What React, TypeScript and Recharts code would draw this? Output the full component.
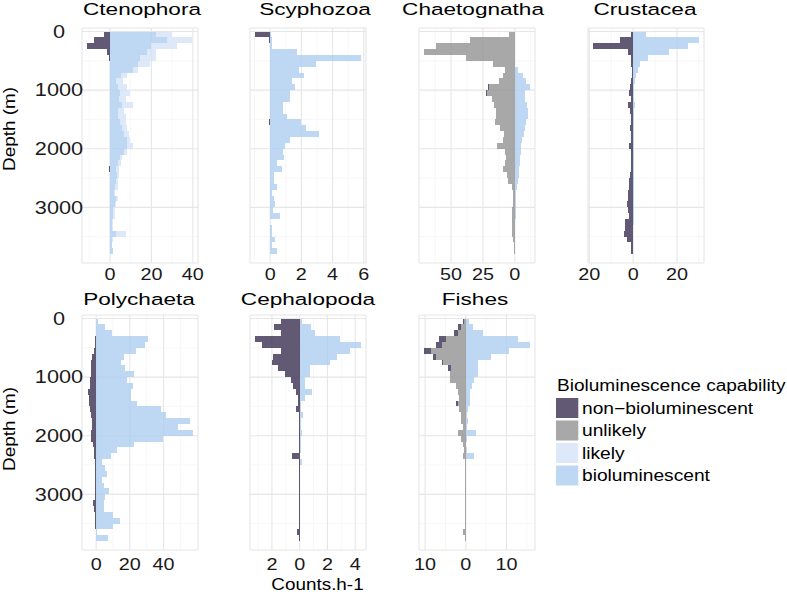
import React from 'react';
import { Bar, BarChart, CartesianGrid, XAxis, YAxis } from 'recharts';

// depth bins (m), bin midpoints of 100 m layers
const depthMid = [
  50, 150, 250, 350, 450, 550, 650, 750, 850, 950,
  1050, 1150, 1250, 1350, 1450, 1550, 1650, 1750, 1850, 1950,
  2050, 2150, 2250, 2350, 2450, 2550, 2650, 2750, 2850, 2950,
  3050, 3150, 3250, 3350, 3450, 3550, 3650, 3750,
];
const depthTicks = [0, 1000, 2000, 3000];
const depthMinor = [500, 1500, 2500, 3500];
const depthDomain = [-60, 3950];

// Ctenophora
const ctenoNon = [2.7, 7.5, 11, 1.5, 0.3, 0, 0, 0, 0, 0, 0, 0, 0, 0, 0, 0, 0, 0, 0, 0, 0, 0, 0, 0.4, 0, 0, 0, 0, 0, 0, 0, 0, 0, 0, 0, 0, 0, 0];
const ctenoBio = [22, 27.5, 20, 18, 14.5, 13.5, 11, 5.5, 3, 4, 5, 4.5, 6, 4, 4, 5, 6, 7, 8, 8, 7, 5, 4, 3, 3.5, 3, 2.5, 2, 3, 2.5, 1.5, 1.5, 1, 1, 3, 1, 1, 1.5];
const ctenoLik = [8, 12, 12.5, 4, 7.5, 6, 2.5, 2.5, 3.5, 4, 4.5, 3, 5, 3, 3.5, 2.5, 2, 2, 1.5, 3, 1, 1, 1.5, 1.5, 1, 1, 1.5, 0.5, 1, 0.5, 1, 1, 0.5, 0.5, 4.5, 0.5, 0, 0];

// Scyphozoa
const scyphoNon = [0.95, 0.05, 0, 0, 0, 0, 0, 0, 0, 0, 0, 0, 0, 0, 0, 0.05, 0, 0, 0, 0, 0, 0, 0, 0, 0, 0, 0, 0, 0, 0, 0, 0, 0, 0, 0, 0, 0, 0];
const scyphoBio = [0.05, 0.1, 0.1, 1.7, 5.8, 2.95, 1.85, 2.15, 1.43, 1.58, 1.26, 1.26, 0.8, 0.8, 1.05, 1.96, 2.27, 3.1, 1.26, 0.97, 0.8, 0.88, 0.42, 0.78, 0.25, 0.25, 0.42, 0.1, 0.27, 0.3, 0.2, 0.6, 0, 0.15, 0.15, 0.3, 0.1, 0.42];

// Chaetognatha
const chaetoNon = [0, 0, 0, 0, 0, 0, 0, 0, 0, 0.6, 1, 0, 0, 0, 0, 0, 0, 0, 0, 0, 0, 0, 0, 0, 0, 0, 0, 0, 0, 0, 0, 0, 0.4, 0, 0, 0, 0, 0];
const chaetoUnl = [4.5, 35, 62, 71, 38, 17, 7.8, 9.5, 12.8, 20.5, 21.5, 17.8, 16, 15, 15, 15.3, 11.5, 8.5, 9, 14, 8, 7.2, 8, 9, 6, 5, 2.6, 1.8, 1.8, 1.6, 2.3, 2.2, 2, 1.9, 1.9, 1.5, 1, 0.8];
const chaetoBio = [0, 0, 0, 0, 0, 0.5, 2.6, 6.5, 9, 11.7, 7.8, 8.3, 9.4, 10, 10, 8.6, 7.8, 6.8, 5.7, 5.2, 4.7, 4.2, 3.9, 3.5, 3.1, 2.8, 2, 1.3, 1, 1, 0.8, 0.6, 0.5, 0.4, 0.3, 0.3, 0.2, 0.1];

// Crustacea
const crustNon = [0.8, 6.2, 18.2, 2.4, 1.2, 0.9, 0.7, 0.7, 0.8, 1.5, 1.8, 1.2, 2.4, 1.5, 1.2, 1.2, 1.3, 1.2, 1, 1.8, 1.2, 1, 1, 1.2, 1.5, 1.8, 2, 2.2, 2.5, 2.7, 2.4, 2, 3.5, 3.8, 4.2, 3, 1.2, 0.8];
const crustBio = [6, 29.8, 25, 16.2, 6.7, 3.3, 2.1, 1.5, 0.9, 0.6, 0.5, 0.5, 1, 0.4, 0.3, 0.3, 0.3, 0.3, 0.3, 0.5, 0.3, 0.3, 0.3, 0.3, 0.2, 0.2, 0.2, 0.2, 0.2, 0.3, 0.2, 0.2, 0.2, 0.1, 0.1, 0.1, 0.1, 0];

// Polychaeta
const polyNon = [0, 0.2, 0.3, 0.5, 0.8, 1.5, 2.5, 3, 3, 3, 3.5, 3.5, 5, 4, 4, 3.5, 3, 2.5, 2.5, 3, 3, 2, 1.5, 1, 0.8, 0.8, 0.8, 0.8, 0.8, 0.8, 0.8, 2, 1, 0.5, 0.5, 0.5, 0, 0];
const polyBio = [1, 5, 9.5, 30.8, 28.9, 23.7, 16.8, 14.8, 17, 22.3, 18.4, 21.7, 21, 20.8, 24.3, 38.7, 41.5, 55.5, 48.6, 57.5, 39.7, 22.7, 12.5, 9.1, 3.6, 5, 6.5, 3.6, 4.5, 7.5, 5, 4.5, 4.5, 9.9, 14, 9.9, 0.6, 6.9];

// Cephalopoda
const cephNon = [1.37, 1.86, 1.37, 3.2, 2.7, 1.33, 1.93, 2, 1.57, 1.08, 0.65, 0.48, 0.29, 0.12, 0.1, 0.3, 0.05, 0.05, 0.05, 0.05, 0.05, 0.05, 0.05, 0.53, 0.05, 0.05, 0.05, 0.05, 0.05, 0.05, 0.05, 0.08, 0.05, 0.05, 0.05, 0.05, 0.2, 0.08];
const cephBio = [0.2, 0.84, 1.08, 2.9, 4.45, 3.66, 2.7, 2.17, 0.77, 0.72, 0.4, 0.4, 0.9, 0.36, 0.12, 0.1, 0.24, 0.1, 0.1, 0.17, 0.1, 0.1, 0.12, 0, 0.2, 0, 0, 0, 0, 0, 0, 0, 0, 0, 0, 0, 0, 0];

// Fishes
const fishNon = [0.4, 0.7, 0.8, 1.6, 1.5, 1.7, 0.8, 0.4, 0.7, 0, 0, 0, 0, 0, 0.6, 0, 0, 0, 0, 0, 0, 0, 0, 0, 0, 0, 0, 0, 0, 0, 0, 0, 0, 0, 0, 0, 0, 0];
const fishUnl = [0.4, 1.1, 2, 4.9, 5.8, 8.5, 7.3, 5.5, 3.7, 3.9, 3.8, 2.3, 1.9, 1.6, 1.9, 1.6, 1.2, 1.1, 0.8, 1.9, 1.1, 0.65, 0.5, 0.8, 0.3, 0.2, 0.2, 0.2, 0.2, 0.2, 0.2, 0.2, 0.2, 0.2, 0.2, 0.2, 0.7, 0.2];
const fishBio = [0.8, 1.8, 4.3, 12.9, 15.7, 10.7, 6.1, 3, 3, 2.9, 2, 1.6, 1.1, 1, 1, 0.6, 0.4, 0.6, 0.3, 2.4, 0.2, 0.1, 0.2, 2, 0.1, 0.1, 0.1, 0.1, 0.1, 0.1, 0.1, 0.1, 0.1, 0.1, 0.1, 0.1, 0.1, 0];

const none = depthMid.map(() => 0);

const legendLabels = ['non\u2212bioluminescent', 'unlikely', 'likely', 'bioluminescent'];
const legendSwatch = ['#625a75', '#a8a8a8', '#dde9f8', '#bed8f4'];
// bar fills are drawn at 0.8 opacity so the grid shows through, like the legend swatches on white
const FILL = { non: '#3b3152', unl: '#929292', lik: '#d4e3f6', bio: '#aecef1' };
const FONT = "'Liberation Sans', Arial, Helvetica, sans-serif";

const PLOT_W = 116;
const PLOT_H = 235;
const AXIS_H = 30;
// just under one 100 m band, so recharts keeps it as given
const BAR_SIZE = (PLOT_H * 100) / (depthDomain[1] - depthDomain[0]) - 0.02;

function buildRows(non: number[], unl: number[], lik: number[], bio: number[]) {
  return depthMid.map((d, i) => ({
    depth: d,
    unl: -unl[i],
    non: -non[i],
    bio: bio[i],
    lik: lik[i],
  }));
}

const XTick = (props: any) => {
  const { x, y, payload, dy } = props;
  return (
    <g transform={`translate(${x},${y + dy}) scale(1.2,1)`}>
      <text textAnchor="middle" fontSize={16.5} fill="#1a1a1a" fontFamily={FONT}>
        {Math.abs(payload.value)}
      </text>
    </g>
  );
};

// depth labels are centred in their column, not right-aligned
const YTick = (props: any) => {
  const { x, y, payload } = props;
  return (
    <g transform={`translate(${x - 23},${y}) scale(1.24,1)`}>
      <text textAnchor="middle" dy="0.36em" fontSize={17.5} fill="#1a1a1a" fontFamily={FONT}>
        {payload.value}
      </text>
    </g>
  );
};

interface PanelProps {
  rows: any[];
  domain: number[];
  ticks: number[];
  minor: number[];
  left: number;
  top: number;
  showY?: boolean;
  tickDy: number;
}

function Panel({ rows, domain, ticks, minor, left, top, showY, tickDy }: PanelProps) {
  const yW = showY ? left : 0;
  return (
    <div style={{ position: 'absolute', left: showY ? 0 : left, top }}>
      <BarChart
        layout="vertical"
        width={PLOT_W + yW}
        height={PLOT_H + AXIS_H}
        data={rows}
        margin={{ top: 0, right: 0, bottom: 0, left: 0 }}
        barCategoryGap={0}
        barGap={0}
        stackOffset="sign"
      >
        <CartesianGrid stroke="#f2f2f2" strokeWidth={0.6} verticalValues={minor} horizontalValues={depthMinor} />
        <CartesianGrid stroke="#e6e6e6" strokeWidth={1.1} />
        <XAxis
          type="number"
          domain={domain}
          ticks={ticks}
          allowDataOverflow
          interval={0}
          height={AXIS_H}
          axisLine={false}
          tickLine={false}
          tickSize={0}
          tickMargin={0}
          tick={(p: any) => <XTick {...p} dy={tickDy} />}
        />
        <YAxis
          type="number"
          dataKey="depth"
          domain={depthDomain}
          ticks={depthTicks}
          allowDataOverflow
          interval={0}
          hide={!showY}
          width={yW}
          axisLine={false}
          tickLine={false}
          tickSize={0}
          tickMargin={0}
          tick={(p: any) => <YTick {...p} />}
        />
        <Bar dataKey="unl" stackId="s" fill={FILL.unl} fillOpacity={0.8} barSize={BAR_SIZE} isAnimationActive={false} />
        <Bar dataKey="non" stackId="s" fill={FILL.non} fillOpacity={0.8} barSize={BAR_SIZE} isAnimationActive={false} />
        <Bar dataKey="bio" stackId="s" fill={FILL.bio} fillOpacity={0.8} barSize={BAR_SIZE} isAnimationActive={false} />
        <Bar dataKey="lik" stackId="s" fill={FILL.lik} fillOpacity={0.8} barSize={BAR_SIZE} isAnimationActive={false} />
      </BarChart>
    </div>
  );
}

const titles = [
  { t: 'Ctenophora', x: 142, y: 15 },
  { t: 'Scyphozoa', x: 315, y: 15 },
  { t: 'Chaetognatha', x: 473, y: 15 },
  { t: 'Crustacea', x: 645, y: 15 },
  { t: 'Polychaeta', x: 139, y: 305 },
  { t: 'Cephalopoda', x: 308, y: 305 },
  { t: 'Fishes', x: 475, y: 305 },
];

const keyTops = [398, 420.5, 443, 465.5];

export default function App() {
  return (
    <div style={{ position: 'absolute', left: 0, top: 0, width: 787, height: 594, background: '#fff', fontFamily: FONT }}>
      <style>{'.recharts-surface{overflow:visible}.recharts-bar-rectangle path,.recharts-bar-rectangle rect{shape-rendering:crispEdges}'}</style>
      <Panel rows={buildRows(ctenoNon, none, ctenoLik, ctenoBio)} domain={[-13.5, 42.5]} ticks={[0, 20, 40]} minor={[-10, 10, 30]} left={82} top={28} showY tickDy={17} />
      <Panel rows={buildRows(scyphoNon, none, none, scyphoBio)} domain={[-1.29, 6.14]} ticks={[0, 2, 4, 6]} minor={[-1, 1, 3, 5]} left={250} top={28} tickDy={17} />
      <Panel rows={buildRows(chaetoNon, chaetoUnl, none, chaetoBio)} domain={[-75.1, 15.8]} ticks={[-50, -25, 0]} minor={[-62.5, -37.5, -12.5, 12.5]} left={419} top={28} tickDy={17} />
      <Panel rows={buildRows(crustNon, none, none, crustBio)} domain={[-20.6, 32.3]} ticks={[-20, 0, 20]} minor={[-10, 10, 30]} left={588} top={28} tickDy={17} />
      <Panel rows={buildRows(polyNon, none, none, polyBio)} domain={[-8.4, 60.5]} ticks={[0, 20, 40]} minor={[10, 30, 50]} left={82} top={315} showY tickDy={20} />
      <Panel rows={buildRows(cephNon, none, none, cephBio)} domain={[-3.58, 4.78]} ticks={[-2, 0, 2, 4]} minor={[-3, -1, 1, 3]} left={250} top={315} tickDy={20} />
      <Panel rows={buildRows(fishNon, fishUnl, none, fishBio)} domain={[-11.5, 17]} ticks={[-10, 0, 10]} minor={[-5, 5, 15]} left={419} top={315} tickDy={20} />

      <svg width={787} height={594} style={{ position: 'absolute', left: 0, top: 0, pointerEvents: 'none' }}>
        {titles.map((d) => (
          <g key={d.t} transform={`translate(${d.x},${d.y}) scale(1.37,1)`}>
            <text textAnchor="middle" fontSize={16.5} fill="#000" fontFamily={FONT}>{d.t}</text>
          </g>
        ))}
        {[129, 429].map((cy) => (
          <g key={cy} transform={`translate(15,${cy}) rotate(-90) scale(1.18,1)`}>
            <text textAnchor="middle" fontSize={16} fill="#000" fontFamily={FONT}>Depth (m)</text>
          </g>
        ))}
        <g transform="translate(317.5,590) scale(1.18,1)">
          <text textAnchor="middle" fontSize={16} fill="#000" fontFamily={FONT}>Counts.h-1</text>
        </g>
        <g transform="translate(557,391) scale(1.19,1)">
          <text fontSize={16} fill="#000" fontFamily={FONT}>Bioluminescence capability</text>
        </g>
        {legendLabels.map((lab, i) => (
          <g key={lab}>
            <rect x={556} y={keyTops[i]} width={22.3} height={20} fill={legendSwatch[i]} />
            <g transform={`translate(582,${keyTops[i] + 15.5}) scale(1.2,1)`}>
              <text fontSize={16} fill="#000" fontFamily={FONT}>{lab}</text>
            </g>
          </g>
        ))}
      </svg>
    </div>
  );
}
